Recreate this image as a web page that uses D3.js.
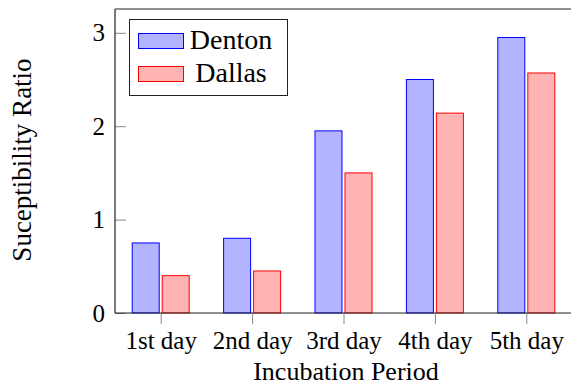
<!DOCTYPE html>
<html>
<head>
<meta charset="utf-8">
<script src="https://cdn.jsdelivr.net/npm/d3@7/dist/d3.min.js"></script>
<style>
  body { margin: 0; background: #fff; }
</style>
</head>
<body>
<div id="chart"></div>
<script>
let days = ['1st day', '2nd day', '3rd day', '4th day', '5th day'];
let denton = [0.75, 0.8, 1.95, 2.5, 2.95];
let dallas = [0.4, 0.45, 1.5, 2.14, 2.57];
let yTicks = [0, 1, 2, 3];

let width = 571;
let height = 385;
let plot = { left: 115, top: 9, right: 572, bottom: 313 };
let serif = '"Liberation Serif", "DejaVu Serif", serif';

let svg = d3.select('#chart').append('svg')
            .attr('width', width)
            .attr('height', height)
            .attr('font-family', serif);

let xScale = d3.scaleLinear()
               .domain([0.5, 5.5])
               .range([plot.left, plot.right]);
let yScale = d3.scaleLinear()
               .domain([0, 3.255])
               .range([plot.bottom, plot.top]);

let barW = 27;
let series = [
  { name: 'Denton', values: denton, fill: '#b3b3ff', stroke: '#0000ff', dx: -15 },
  { name: 'Dallas', values: dallas, fill: '#ffb3b3', stroke: '#ff0000', dx: 15 }
];

// bars
series.forEach(s => {
  svg.selectAll(null)
     .data(s.values)
     .enter()
     .append('rect')
     .attr('x', (v, i) => xScale(i + 1) + s.dx - barW / 2)
     .attr('y', v => yScale(v))
     .attr('width', barW)
     .attr('height', v => yScale(0) - yScale(v))
     .style('fill', s.fill)
     .style('stroke', s.stroke)
     .style('stroke-width', 1);
});

// x axis (ticks outside, gray)
let xAxis = svg.append('g')
               .attr('transform', `translate(0, ${plot.bottom})`)
               .call(d3.axisBottom(xScale)
                       .tickValues(d3.range(1, days.length + 1))
                       .tickFormat((v, i) => days[i])
                       .tickSize(11)
                       .tickPadding(7)
                       .tickSizeOuter(0));
xAxis.attr('font-family', serif);
xAxis.select('.domain').remove();
xAxis.selectAll('line').attr('stroke', '#888');
xAxis.selectAll('text').style('font-size', '25px');

// y axis (ticks inside, gray)
let yAxis = svg.append('g')
               .attr('transform', `translate(${plot.left}, 0)`)
               .call(d3.axisLeft(yScale)
                       .tickValues(yTicks)
                       .tickFormat(d3.format('d'))
                       .tickSize(-11)
                       .tickPadding(10)
                       .tickSizeOuter(0));
yAxis.attr('font-family', serif);
yAxis.select('.domain').remove();
yAxis.selectAll('line').attr('stroke', '#888');
yAxis.selectAll('text').style('font-size', '25px');

// frame
svg.append('line').attr('x1', plot.left).attr('x2', width).attr('y1', plot.top).attr('y2', plot.top)
   .attr('stroke', '#222').attr('stroke-width', 1.2);
svg.append('line').attr('x1', plot.left).attr('x2', plot.left).attr('y1', plot.top).attr('y2', plot.bottom)
   .attr('stroke', '#222').attr('stroke-width', 1.2);
svg.append('line').attr('x1', plot.left).attr('x2', width).attr('y1', plot.bottom).attr('y2', plot.bottom)
   .attr('stroke', '#222').attr('stroke-width', 1.2);

// axis titles
svg.append('text')
   .attr('x', 346)
   .attr('y', 380)
   .attr('text-anchor', 'middle')
   .style('font-size', '26px')
   .text('Incubation Period');
svg.append('text')
   .attr('transform', `translate(31, 160) rotate(-90)`)
   .attr('text-anchor', 'middle')
   .style('font-size', '27px')
   .text('Suceptibility Ratio');

// legend
let legend = svg.append('g');
legend.append('rect')
      .attr('x', 129.5).attr('y', 19.5)
      .attr('width', 158).attr('height', 76)
      .style('fill', '#fff').style('stroke', '#222').style('stroke-width', 1);
series.forEach((s, i) => {
  legend.append('rect')
        .attr('x', 138.5).attr('y', 33.5 + i * 33)
        .attr('width', 45).attr('height', 15)
        .style('fill', s.fill).style('stroke', s.stroke);
  legend.append('text')
        .attr('x', 231).attr('y', 49 + i * 33)
        .attr('text-anchor', 'middle')
        .style('font-size', '28px')
        .text(s.name);
});
</script>
</body>
</html>
